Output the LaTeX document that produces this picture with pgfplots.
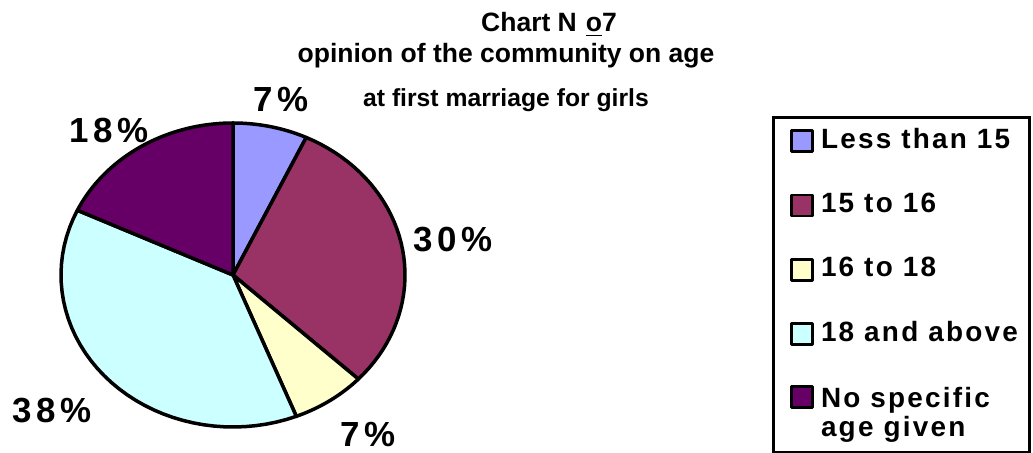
\documentclass[border=0pt]{standalone}
\usepackage{pgfplots}
\pgfplotsset{compat=1.18}
\usepackage{fontspec}
\setmainfont{Liberation Sans}
\newfontfamily\spaced{Liberation Sans}[LetterSpace=12]
\newfontfamily\legfont{Liberation Sans}[LetterSpace=8]

\definecolor{lt15}{HTML}{9999FF}
\definecolor{c1516}{HTML}{993366}
\definecolor{c1618}{HTML}{FFFFCC}
\definecolor{c18up}{HTML}{CCFFFF}
\definecolor{nospec}{HTML}{660066}

\begin{document}
\begin{tikzpicture}
\begin{axis}[
    name=ax,
    x=0.5bp, y=0.5bp,
    xmin=0, xmax=1033, ymin=0, ymax=453,
    y dir=reverse,
    hide axis, clip=false,
    % pie slices: cumulative percent -> angle 3.6*x, clockwise from 12 o'clock
    every axis plot/.append style={draw=black, line width=1.75bp, line join=round, samples=40},
    legend image code/.code={
        \path (0bp,0bp) (16bp,0bp);
        \draw[#1, draw=black, line width=1.4bp] (2bp,-5.25bp) rectangle (12.5bp,5.25bp);
    },
    legend cell align=left,
    legend style={
        at={(axis cs:772,116)}, anchor=north west,
        draw=black, line width=1.5bp,
        inner xsep=6bp, inner ysep=5.5bp,
        row sep=19.3bp,
        font=\legfont\bfseries\fontsize{14}{14.5}\selectfont,
        nodes={inner sep=0pt, text height=10bp, text depth=2.8bp},
    },
]
\addplot[fill=lt15, domain=0:7] ({233+172*sin(3.6*x)},{275-152*cos(3.6*x)}) -- (axis cs:233,275) -- cycle;
\addlegendentry{Less than 15}
\addplot[fill=c1516, domain=7:37] ({233+172*sin(3.6*x)},{275-152*cos(3.6*x)}) -- (axis cs:233,275) -- cycle;
\addlegendentry{15 to 16}
\addplot[fill=c1618, domain=37:44] ({233+172*sin(3.6*x)},{275-152*cos(3.6*x)}) -- (axis cs:233,275) -- cycle;
\addlegendentry{16 to 18}
\addplot[fill=c18up, domain=44:82] ({233+172*sin(3.6*x)},{275-152*cos(3.6*x)}) -- (axis cs:233,275) -- cycle;
\addlegendentry{18 and above}
\addplot[fill=nospec, domain=82:100,
    legend image code/.code={
        \path (0bp,0bp) (16bp,0bp);
        \draw[fill=nospec, draw=black, line width=1.4bp] (2bp,3.4bp) rectangle (12.5bp,13.9bp);
    }] ({233+172*sin(3.6*x)},{275-152*cos(3.6*x)}) -- (axis cs:233,275) -- cycle;
\addlegendentry[text depth=17.3bp]{\begin{tabular}[t]{@{}l@{}}No specific\\age given\end{tabular}}

% slice labels
\begin{scope}[every node/.style={font=\spaced\bfseries\fontsize{17.5}{20}\selectfont}]
\node at (axis cs:281,100) {7\%};
\node at (axis cs:453,240) {30\%};
\node at (axis cs:368,435) {7\%};
\node at (axis cs:52,411) {38\%};
\node at (axis cs:109,131) {18\%};
\end{scope}

% title
\begin{scope}[every node/.style={font=\bfseries\fontsize{13.3}{16}\selectfont, anchor=base}]
\node at (axis cs:549,32) {Chart N\hspace{4.5bp}\underline{o}7};
\node at (axis cs:506,63) {opinion of the community on age};
\node[font=\bfseries\fontsize{12.4}{15}\selectfont] at (axis cs:506,107) {at first marriage for girls};
\end{scope}
\end{axis}
\pgfresetboundingbox
\path (ax.south west) rectangle (ax.north east);
\end{tikzpicture}
\end{document}
